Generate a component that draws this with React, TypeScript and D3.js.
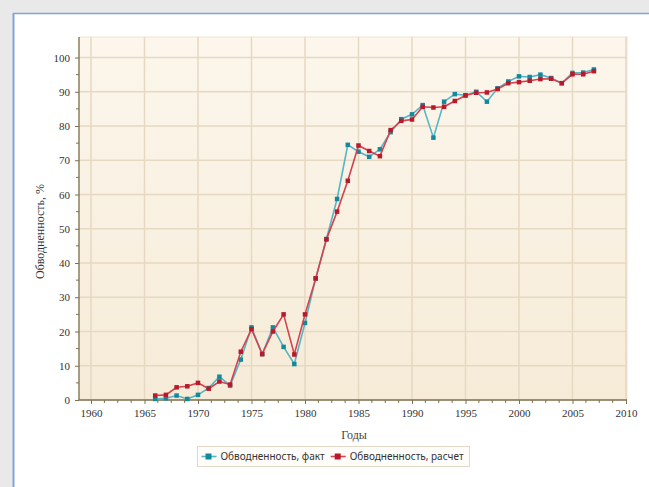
import React, { useEffect, useRef } from "react";
import * as d3 from "d3";

const years = [
  1966, 1967, 1968, 1969, 1970, 1971, 1972, 1973, 1974, 1975, 1976, 1977, 1978, 1979,
  1980, 1981, 1982, 1983, 1984, 1985, 1986, 1987, 1988, 1989, 1990, 1991, 1992, 1993,
  1994, 1995, 1996, 1997, 1998, 1999, 2000, 2001, 2002, 2003, 2004, 2005, 2006, 2007,
];
const factValues = [
  0.3, 0.5, 1.3, 0.3, 1.5, 3.5, 6.8, 4.2, 11.8, 21.2, 13.4, 21.2, 15.5, 10.5,
  22.5, 35.5, 47, 58.7, 74.5, 72.5, 71, 73.2, 78.2, 82, 83.4, 86.1, 76.6, 87.1,
  89.3, 89, 90, 87.1, 91, 93, 94.5, 94.3, 95, 94, 92.5, 95.5, 95.6, 96.5,
];
const calcValues = [
  1.3, 1.5, 3.7, 4.0, 5.0, 3.3, 5.4, 4.5, 14.1, 20.7, 13.4, 20.0, 25, 13.3,
  25, 35.5, 46.9, 55, 64, 74.3, 72.7, 71.2, 78.8, 81.5, 81.9, 85.6, 85.4, 85.6,
  87.3, 88.9, 89.7, 89.8, 90.8, 92.5, 92.8, 93.2, 93.7, 93.8, 92.5, 95.1, 95.1, 96.0,
];
const xTicks = [1960, 1965, 1970, 1975, 1980, 1985, 1990, 1995, 2000, 2005, 2010];
const yTicks = [0, 10, 20, 30, 40, 50, 60, 70, 80, 90, 100];
const seriesNames = ["Обводненность, факт", "Обводненность, расчет"];
const xTitle = "Годы";
const yTitle = "Обводненность, %";

const App = () => {
  const chart = useRef<SVGSVGElement>(null);

  useEffect(() => {
    drawChart();
  }, []);

  const drawChart = () => {
    const width = 649;
    const height = 487;
    const plot = { left: 79, right: 627, top: 37, bottom: 400 };

    const svg = d3.select(chart.current);
    svg.selectAll("*").remove();

    // page frame
    svg.append("rect").attr("width", width).attr("height", height).attr("fill", "#e9e9e9");
    svg.append("rect").attr("x", 13).attr("y", 13).attr("width", width).attr("height", height).attr("fill", "#fff");
    svg.append("line").attr("x1", 13.5).attr("x2", 13.5).attr("y1", 13).attr("y2", height)
      .attr("stroke", "#7ea6d6").attr("stroke-width", 2);
    svg.append("line").attr("x1", 13).attr("x2", width).attr("y1", 13.5).attr("y2", 13.5)
      .attr("stroke", "#7ea6d6").attr("stroke-width", 1.5);

    const defs = svg.append("defs");
    const grad = defs.append("linearGradient").attr("id", "bg").attr("x1", 0).attr("y1", 0).attr("x2", 0).attr("y2", 1);
    grad.append("stop").attr("offset", "0%").attr("stop-color", "#fcf6ec");
    grad.append("stop").attr("offset", "100%").attr("stop-color", "#f6ebd7");

    const x = d3.scaleLinear().domain([1960, 2010]).range([91, 626]);
    const y = d3.scaleLinear().domain([0, 100]).range([plot.bottom, 57.5]);

    svg.append("rect")
      .attr("x", plot.left).attr("y", plot.top)
      .attr("width", plot.right - plot.left).attr("height", plot.bottom - plot.top)
      .attr("fill", "url(#bg)").attr("stroke", "#efe3cf");

    // grid
    const grid = svg.append("g").attr("stroke", "#e6d9c2").attr("stroke-width", 1.5);
    grid.selectAll("line.v").data(xTicks).join("line").attr("class", "v")
      .attr("x1", (d) => x(d)).attr("x2", (d) => x(d))
      .attr("y1", plot.top).attr("y2", plot.bottom);
    grid.selectAll("line.h").data(yTicks.slice(1)).join("line").attr("class", "h")
      .attr("x1", plot.left).attr("x2", plot.right)
      .attr("y1", (d) => y(d)).attr("y2", (d) => y(d));

    const axisColor = "#7d7050";
    const xMinor = d3.range(1960, 2010.01, 1.25).filter((d) => d % 5 !== 0);
    const yMinor = d3.range(5, 100, 10);

    // x axis
    const xAxis = svg.append("g").attr("transform", `translate(0,${plot.bottom})`);
    xAxis.call(d3.axisBottom(x).tickValues(xTicks).tickFormat(d3.format("d")).tickSize(4).tickSizeOuter(0));
    xAxis.select(".domain").remove();
    xAxis.append("line").attr("x1", plot.left).attr("x2", plot.right).attr("stroke", axisColor).attr("stroke-width", 1.3);
    xAxis.selectAll(".tick line").attr("stroke", axisColor);
    xAxis.selectAll("line.minor").data(xMinor).join("line").attr("class", "minor")
      .attr("x1", (d) => x(d)).attr("x2", (d) => x(d)).attr("y1", 0).attr("y2", 3).attr("stroke", axisColor);
    xAxis.selectAll(".tick text")
      .attr("font-family", "'Liberation Serif', serif").attr("font-size", 11).attr("fill", "#333").attr("dy", "0.9em");

    // y axis
    const yAxis = svg.append("g").attr("transform", `translate(${plot.left},0)`);
    yAxis.call(d3.axisLeft(y).tickValues(yTicks).tickSize(4).tickSizeOuter(0));
    yAxis.select(".domain").remove();
    yAxis.append("line").attr("y1", plot.top).attr("y2", plot.bottom).attr("stroke", axisColor).attr("stroke-width", 1.3);
    yAxis.selectAll(".tick line").attr("stroke", axisColor);
    yAxis.selectAll("line.minor").data(yMinor).join("line").attr("class", "minor")
      .attr("y1", (d) => y(d)).attr("y2", (d) => y(d)).attr("x1", -3).attr("x2", 0).attr("stroke", axisColor);
    yAxis.selectAll(".tick text")
      .attr("font-family", "'Liberation Serif', serif").attr("font-size", 11).attr("fill", "#333").attr("x", -9);

    // titles
    svg.append("text").attr("x", (plot.left + plot.right) / 2 + 1).attr("y", 439)
      .attr("text-anchor", "middle").attr("font-family", "'Liberation Serif', serif")
      .attr("font-size", 12).attr("fill", "#444").text(xTitle);
    svg.append("text").attr("transform", `translate(44,${(plot.top + plot.bottom) / 2 + 13}) rotate(-90)`)
      .attr("text-anchor", "middle").attr("font-family", "'Liberation Serif', serif")
      .attr("font-size", 12).attr("fill", "#333").text(yTitle);

    // series
    const series = [
      { name: seriesNames[0], values: factValues, line: "#56b6c6", mark: "#15899c" },
      { name: seriesNames[1], values: calcValues, line: "#d2434f", mark: "#b81a2b" },
    ];
    const line = d3.line<number>().x((d, i) => x(years[i])).y((d) => y(d));
    series.forEach((s) => {
      const g = svg.append("g");
      g.append("path").datum(s.values).attr("d", line).attr("fill", "none")
        .attr("stroke", s.line).attr("stroke-width", 1.6);
      g.selectAll("rect").data(s.values).join("rect")
        .attr("x", (d, i) => x(years[i]) - 2.25).attr("y", (d) => y(d) - 2.25)
        .attr("width", 4.5).attr("height", 4.5).attr("fill", s.mark);
    });

    // legend: laid out from measured text widths, centred under the plot
    const legend = svg.append("g");
    const box = legend.append("rect").attr("y", 446.5).attr("height", 20)
      .attr("fill", "#fffdf9").attr("stroke", "#e3d8c6");
    let cx = 0;
    const items = legend.append("g");
    series.forEach((s) => {
      const gx = cx + 4;
      items.append("line").attr("x1", gx).attr("x2", gx + 15).attr("y1", 456.5).attr("y2", 456.5)
        .attr("stroke", s.line).attr("stroke-width", 1.6);
      items.append("rect").attr("x", gx + 4).attr("y", 453.5).attr("width", 6).attr("height", 6).attr("fill", s.mark);
      const t = items.append("text").attr("x", gx + 19).attr("y", 460).attr("font-family", "'Noto Sans', sans-serif")
        .attr("font-size", 10).attr("fill", "#333").text(s.name);
      const w = (t.node() as SVGTextElement).getComputedTextLength();
      cx = gx + 19 + w + 2;
    });
    const boxW = cx + 4;
    const boxX = Math.round(333 - boxW / 2) + 0.5;
    box.attr("x", boxX).attr("width", boxW);
    items.attr("transform", `translate(${boxX},0)`);
  };

  return (
    <div style={{ margin: 0 }}>
      <svg
        ref={chart}
        width={649}
        height={487}
        style={{ position: "absolute", left: 0, top: 0 }}
      ></svg>
    </div>
  );
};

export default App;
